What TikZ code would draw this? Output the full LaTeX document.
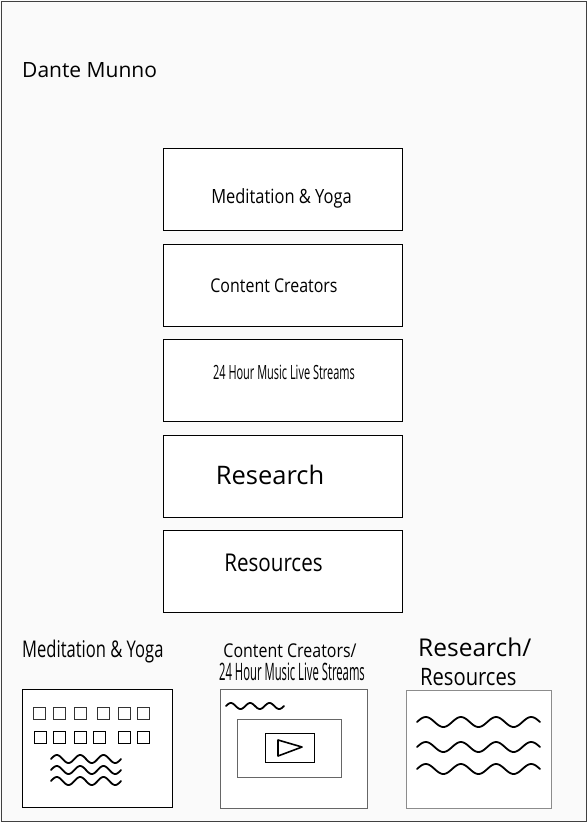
\documentclass[tikz,border=0pt]{standalone}
\usepackage{fontspec}
\setmainfont{Open Sans}
\newfontfamily\condfont[FakeStretch=0.84]{Open Sans}
\newfontfamily\medcond[FakeStretch=0.72]{Open Sans}
\newfontfamily\narrowfont[FakeStretch=0.56]{Open Sans}
\newfontfamily\xnarrowfont[FakeStretch=0.47]{Open Sans}
\usetikzlibrary{positioning,calc}

\definecolor{pagebg}{RGB}{250,250,250}
\tikzset{
  menubox/.style={draw, fill=white, minimum width=239pt, minimum height=82pt, inner sep=0pt},
  menutext/.style={inner sep=0pt, anchor=base},
  thumb/.style={fill=white},
  wave/.style={line width=1.8pt, line cap=round},
}
% x0, y0, width, amplitude, periods
\newcommand{\wavyline}[5]{%
  \draw[wave] plot[domain=0:1, samples=90, smooth] ({#1+#3*\x},{#2-#4*sin(\x*360*#5)});}

\begin{document}
\begin{tikzpicture}[x=1pt,y=-1pt]
\useasboundingbox (0,0) rectangle (587,822);
\fill[pagebg] (0,0) rectangle (587,822);
\draw[black!75] (1,1) rectangle (586,821);

% title
\node[inner sep=0pt, anchor=base west, font=\fontsize{21}{24}\selectfont] (title) at (22,77) {Dante Munno};

% menu
\node[menubox] (med) at (282.5,189.5) {};
\node[menubox, below=13pt of med] (creators) {};
\node[menubox, below=13pt of creators] (streams) {};
\node[menubox, below=13pt of streams] (research) {};
\node[menubox, below=13pt of research] (resources) {};

\node[menutext, font=\condfont\fontsize{19.6}{22}\selectfont] (medtxt) at ($(med.center)+(-1,13.5)$) {Meditation \& Yoga};
\node[menutext, font=\condfont\fontsize{19}{22}\selectfont] (creatorstxt) at ($(creators.center)+(-8.5,7.5)$) {Content Creators};
\node[menutext, font=\narrowfont\fontsize{19.6}{22}\selectfont] (streamstxt) at ($(streams.center)+(1.5,-0.5)$) {24 Hour Music Live Streams};
\node[menutext, font=\fontsize{25.5}{28}\selectfont] (researchtxt) at ($(research.center)+(-12.5,8.5)$) {Research};
\node[menutext, font=\condfont\fontsize{24.5}{28}\selectfont] (resourcestxt) at ($(resources.center)+(-9,0.5)$) {Resources};

% preview captions
\node[inner sep=0pt, anchor=base west, font=\medcond\fontsize{23}{26}\selectfont] (capmed) at (22,657) {Meditation \& Yoga};
\node[inner sep=0pt, anchor=base, font=\condfont\fontsize{19}{22}\selectfont] (capcreators) at (290,657) {Content Creators/};
\node[inner sep=0pt, anchor=base, font=\xnarrowfont\fontsize{24}{27}\selectfont] (capstreams) at (292,680) {24 Hour Music Live Streams};
\node[inner sep=0pt, anchor=base west, font=\fontsize{24.5}{28}\selectfont] (capresearch) at (418,656) {Research/};
\node[inner sep=0pt, anchor=base west, font=\condfont\fontsize{24}{27}\selectfont] (capresources) at (420,685) {Resources};

% meditation preview
\draw[thumb, draw=black] (22,689) rectangle (172,807);
\foreach \x in {33,53,74,97,118,137}
  \draw[black!80] (\x,707) rectangle ++(12,12);
\foreach \x in {34,53,74,93,118,137}
  \draw (\x,731) rectangle ++(12,12);
\wavyline{51}{759}{70}{4}{3}
\wavyline{51}{770}{70}{4}{3}
\wavyline{51}{781}{70}{4}{3}

% streams preview
\draw[thumb, draw=black!60, line width=1pt] (220,689) rectangle (367,808);
\wavyline{226}{706}{58}{3}{3}
\draw[draw=black!60, line width=1pt] (237,719) rectangle (341,777);
\draw (265,733) rectangle (314,762);
\draw[line width=1.6pt, line join=round] (278,740) -- (278,756) -- (302,747) -- cycle;

% research preview
\draw[thumb, draw=black!45] (406,690) rectangle (551,808);
\wavyline{417}{722}{123}{5}{3.5}
\wavyline{417}{747}{123}{5}{3.5}
\wavyline{417}{769}{123}{5}{3.5}
\end{tikzpicture}
\end{document}
